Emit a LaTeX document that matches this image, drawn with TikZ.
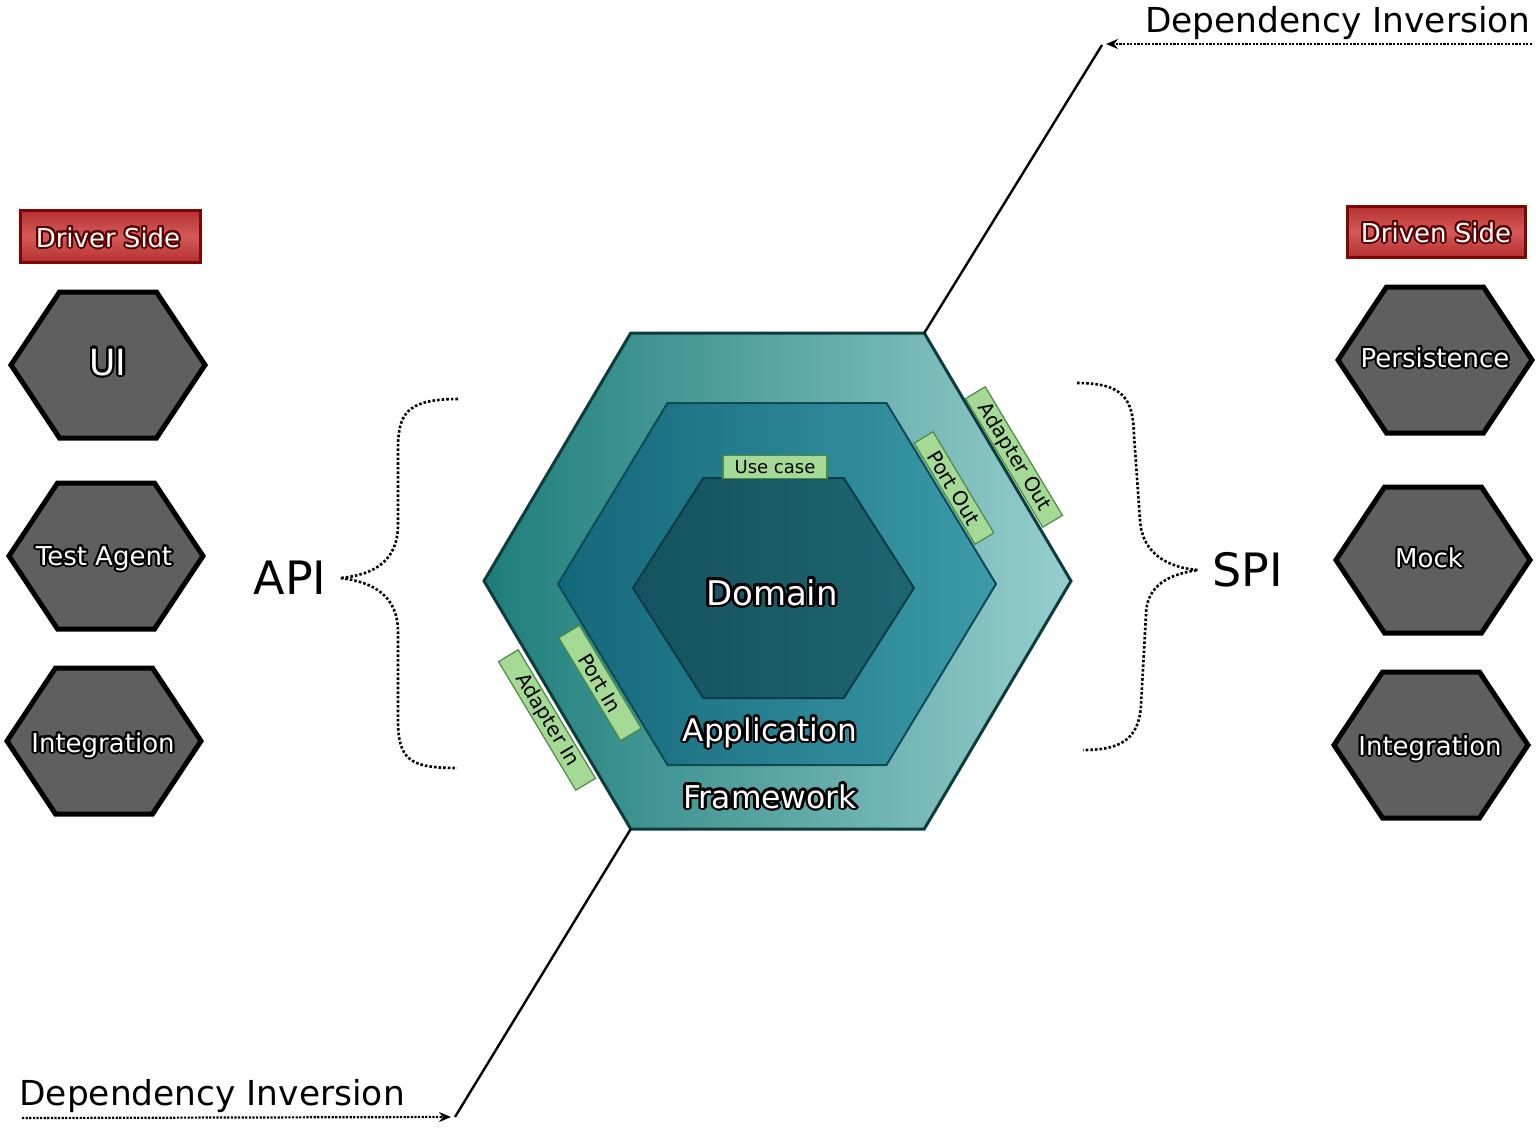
\documentclass[tikz,border=0pt]{standalone}
\usepackage{fontspec}
\setmainfont{DejaVu Sans}
\usepackage{contour}
\contournumber{20}
\usetikzlibrary{arrows.meta}
\definecolor{hexgray}{HTML}{5F5F5F}
\definecolor{fwleft}{HTML}{1E7E7A}
\definecolor{fwright}{HTML}{96CECE}
\definecolor{fwborder}{HTML}{0E3C3D}
\definecolor{apleft}{HTML}{13677A}
\definecolor{apright}{HTML}{3C9BA8}
\definecolor{apborder}{HTML}{0F4A56}
\definecolor{doleft}{HTML}{14525F}
\definecolor{doright}{HTML}{1E656F}
\definecolor{doborder}{HTML}{0C3C45}
\definecolor{lblgreen}{HTML}{A4D996}
\definecolor{lblborder}{HTML}{4E8A42}
\definecolor{sidered}{HTML}{B53030}
\definecolor{sidelight}{HTML}{D45A5A}
\definecolor{sideborder}{HTML}{7E0606}
\definecolor{sidetext}{HTML}{5A0000}
\tikzset{
  pics/hexa/.style 2 args={code={\path[pic actions] (-#1,0) -- (-#1/2,-#2) -- (#1/2,-#2) -- (#1,0) -- (#1/2,#2) -- (-#1/2,#2) -- cycle;}},
  grayhex/.style={draw=black, line width=2.5pt, fill=hexgray},
  hexlbl/.style={text=white, font=\fontsize{13}{15}\selectfont, inner sep=0pt, anchor=base},
  ringlbl/.style={text=white, inner sep=0pt, anchor=base},
  greenlbl/.style={draw=lblborder, fill=lblgreen, line width=0.6pt, inner sep=0pt, text=black, font=\fontsize{10}{12}\selectfont},
  sidebox/.style={draw=sideborder, line width=1.5pt, top color=sidered, bottom color=sidered, middle color=sidelight, inner sep=0pt},
  sidelbl/.style={text=white, inner sep=0pt, anchor=base, font=\fontsize{13}{15}\selectfont},
  bigblack/.style={text=black, inner sep=0pt, anchor=base, font=\fontsize{23}{27}\selectfont},
  ditext/.style={text=black, inner sep=0pt, font=\fontsize{17.2}{20}\selectfont},
  dotline/.style={line width=1.3pt, dash pattern=on 1.3pt off 1pt},
  diline/.style={line width=1.1pt, dash pattern=on 1.1pt off 0.7pt},
  diag/.style={line width=1.2pt},
  ditip/.style={-{Stealth[length=6pt,width=5pt]}}
}
\newcommand{\glowtext}[3]{\contourlength{#2}\contour{#1}{#3}}
\begin{document}
\begin{tikzpicture}[x=0.5pt,y=-0.5pt]
\useasboundingbox (0,0) rectangle (1539,1130);
\fill[white] (0,0) rectangle (1539,1130);

% central hexagon
\pic[draw=fwborder, line width=1.5pt, left color=fwleft, right color=fwright] at (777.5,581) {hexa={293.5}{248}};
\pic[draw=apborder, line width=1pt, left color=apleft, right color=apright] at (777,584) {hexa={219}{181}};
\pic[draw=doborder, line width=1pt, left color=doleft, right color=doright] at (773.5,588) {hexa={140.5}{110}};
\coordinate (fwTR) at (924.25,333);
\coordinate (fwBL) at (630.75,829);

\node[ringlbl, font=\fontsize{17}{20}\selectfont] (domain) at (772,605) {\glowtext{black}{1.3pt}{Domain}};
\node[ringlbl, font=\fontsize{15.6}{18}\selectfont] (application) at (770,741) {\glowtext{black}{1.2pt}{Application}};
\node[ringlbl, font=\fontsize{15.7}{18}\selectfont] (framework) at (770,808) {\glowtext{black}{1.2pt}{Framework}};

% green labels
\node[greenlbl, font=\fontsize{9}{11}\selectfont, minimum width=52pt, minimum height=11.5pt] (usecase) at (775,467) {Use case};
\node[greenlbl, rotate=-59, minimum width=59pt, minimum height=11pt] (portout) at (954,488) {Port Out};
\node[greenlbl, rotate=-59, minimum width=75pt, minimum height=11.5pt] (adapterout) at (1014,457) {Adapter Out};
\node[greenlbl, rotate=-59, minimum width=60pt, minimum height=12pt] (portin) at (600,683) {Port In};
\node[greenlbl, rotate=-59, minimum width=75pt, minimum height=11.5pt] (adapterin) at (547,720) {Adapter In};

% side boxes
\node[sidebox, minimum width=90pt, minimum height=26pt] (driver) at (110,236) {};
\node[sidebox, minimum width=89pt, minimum height=25.5pt] (driven) at (1436,231.5) {};
\node[sidelbl] (drivertxt) at (108,247) {\glowtext{sidetext}{1pt}{Driver Side}};
\node[sidelbl] (driventxt) at (1436,242) {\glowtext{sidetext}{1pt}{Driven Side}};

% gray hexagons
\pic[grayhex] at (108,365) {hexa={97}{73}};
\pic[grayhex] at (106,556) {hexa={97}{73}};
\pic[grayhex] at (104,741) {hexa={97}{73}};
\pic[grayhex] at (1435,360) {hexa={97}{73}};
\pic[grayhex] at (1433,560) {hexa={97}{73}};
\pic[grayhex] at (1431,745) {hexa={97}{73}};
\node[hexlbl, font=\fontsize{18}{20}\selectfont] (ui) at (108,375) {\glowtext{black}{1.2pt}{UI}};
\node[hexlbl] (testagent) at (104,565) {\glowtext{black}{1pt}{Test Agent}};
\node[hexlbl] (intleft) at (103,752) {\glowtext{black}{1pt}{Integration}};
\node[hexlbl] (persistence) at (1435,367) {\glowtext{black}{1pt}{Persistence}};
\node[hexlbl] (mock) at (1429,567) {\glowtext{black}{1pt}{Mock}};
\node[hexlbl] (intright) at (1430,755) {\glowtext{black}{1pt}{Integration}};

% API / SPI
\node[bigblack] (api) at (290,594) {API};
\node[bigblack] (spi) at (1248,586) {SPI};
\coordinate (apitip) at (340,578);
\coordinate (apitop) at (458,399);
\coordinate (apibot) at (457,768);
\draw[dotline] (apitop) .. controls (405,399) and (398,415) .. (398,450) -- (398,525)
  .. controls (398,560) and (375,575) .. (apitip)
  .. controls (375,582) and (398,597) .. (398,632) -- (398,720)
  .. controls (398,760) and (410,768) .. (apibot);
\coordinate (spitip) at (1198,570);
\coordinate (spitop) at (1077,383);
\coordinate (spibot) at (1083,750);
\draw[dotline] (spitop) .. controls (1125,383) and (1133,400) .. (1134,435) -- (1140,520)
  .. controls (1142,555) and (1170,568) .. (spitip)
  .. controls (1170,574) and (1146,585) .. (1146,615) -- (1141,705)
  .. controls (1139,740) and (1120,750) .. (spibot);

% dependency inversion
\node[ditext, anchor=base east] (ditop) at (1531,32) {Dependency Inversion};
\node[ditext, anchor=base west] (dibot) at (19,1105) {Dependency Inversion};
\coordinate (diTopEnd) at (1102,45);
\coordinate (diTopStart) at (1532,44);
\coordinate (diTopTip) at (1106,44);
\coordinate (diBotEnd) at (455,1117);
\coordinate (diBotStart) at (22,1118);
\coordinate (diBotTip) at (451,1117);
\draw[diag] (fwTR) -- (diTopEnd);
\draw[diag] (fwBL) -- (diBotEnd);
\draw[diline, ditip] (diTopStart) -- (diTopTip);
\draw[diline, ditip] (diBotStart) -- (diBotTip);
\end{tikzpicture}
\end{document}
